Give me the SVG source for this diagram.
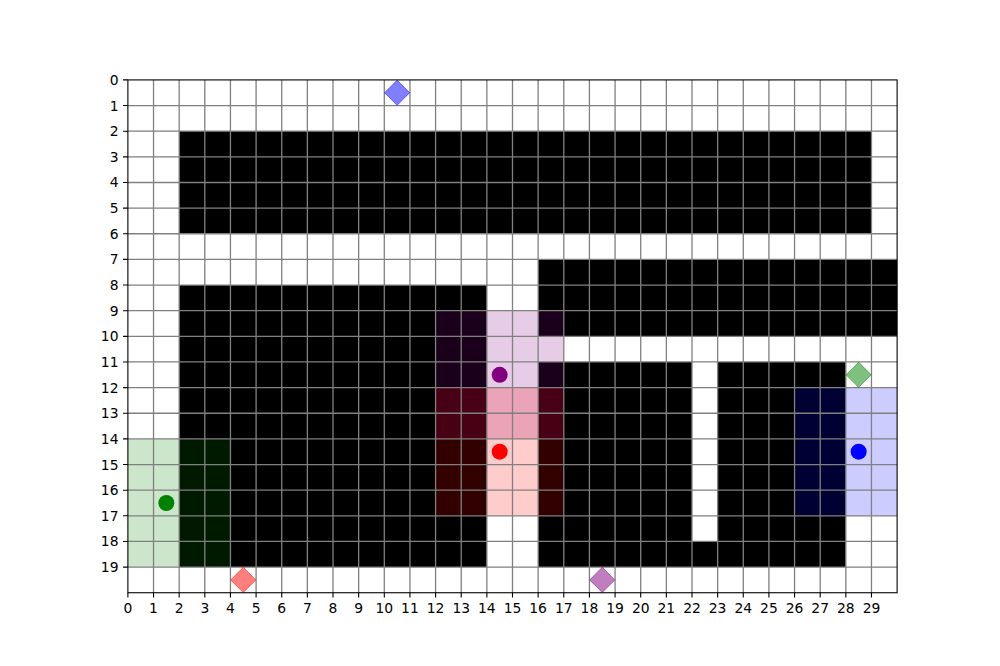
<svg xmlns="http://www.w3.org/2000/svg" width="1000" height="666" viewBox="0 0 1000 666">
<style>
.wall{fill:#000}
.gl{stroke:#808080;stroke-width:1.3;fill:none;vector-effect:non-scaling-stroke}
.tk{stroke:#000;stroke-width:1.1;fill:none}
text{font-family:"DejaVu Sans",sans-serif;font-size:13.89px;fill:#000}
.yl{text-anchor:end}
.xl{text-anchor:middle}
.mk{stroke-width:1;vector-effect:non-scaling-stroke;fill-opacity:0.5;stroke-opacity:0.5}
</style>
<rect x="0" y="0" width="1000" height="666" fill="#fff"/>
<g id="map" transform="translate(127.885,79.92) scale(25.641)">
  <rect x="0" y="0" width="30" height="20" fill="#fff"/>
  <g id="walls">
    <rect class="wall" x="2" y="2" width="27" height="4"/>
    <rect class="wall" x="16" y="7" width="14" height="3"/>
    <rect class="wall" x="2" y="8" width="12" height="11"/>
    <rect class="wall" x="16" y="11" width="6" height="8"/>
    <rect class="wall" x="22" y="18" width="1" height="1"/>
    <rect class="wall" x="23" y="11" width="5" height="8"/>
  </g>
  <g id="views">
    <rect x="12" y="9" width="5" height="5" fill="#800080" fill-opacity="0.2"/>
    <rect x="12" y="12" width="5" height="5" fill="#ff0000" fill-opacity="0.2"/>
    <rect x="26" y="12" width="4" height="5" fill="#0000ff" fill-opacity="0.2"/>
    <rect x="0" y="14" width="4" height="5" fill="#008000" fill-opacity="0.2"/>
  </g>
  <g id="grid">
    <path class="gl" d="M1 0V20M2 0V20M3 0V20M4 0V20M5 0V20M6 0V20M7 0V20M8 0V20M9 0V20M10 0V20M11 0V20M12 0V20M13 0V20M14 0V20M15 0V20M16 0V20M17 0V20M18 0V20M19 0V20M20 0V20M21 0V20M22 0V20M23 0V20M24 0V20M25 0V20M26 0V20M27 0V20M28 0V20M29 0V20"/>
    <path class="gl" d="M0 1H30M0 2H30M0 3H30M0 4H30M0 5H30M0 6H30M0 7H30M0 8H30M0 9H30M0 10H30M0 11H30M0 12H30M0 13H30M0 14H30M0 15H30M0 16H30M0 17H30M0 18H30M0 19H30"/>
  </g>
  <g id="goals">
    <polygon id="goal-blue" class="mk" fill="#0000ff" stroke="#0000ff" points="10.5,0.01 10.99,0.5 10.5,0.99 10.01,0.5"/>
    <polygon id="goal-green" class="mk" fill="#008000" stroke="#008000" points="28.5,11.01 28.99,11.5 28.5,11.99 28.01,11.5"/>
    <polygon id="goal-red" class="mk" fill="#ff0000" stroke="#ff0000" points="4.5,19.01 4.99,19.5 4.5,19.99 4.01,19.5"/>
    <polygon id="goal-purple" class="mk" fill="#800080" stroke="#800080" points="18.5,19.01 18.99,19.5 18.5,19.99 18.01,19.5"/>
  </g>
  <g id="agents">
    <circle id="agent-purple" cx="14.5" cy="11.5" r="0.312" fill="#800080"/>
    <circle id="agent-red" cx="14.5" cy="14.5" r="0.312" fill="#ff0000"/>
    <circle id="agent-blue" cx="28.5" cy="14.5" r="0.312" fill="#0000ff"/>
    <circle id="agent-green" cx="1.5" cy="16.5" r="0.312" fill="#008000"/>
  </g>
</g>
<g id="axes">
  <rect x="127.885" y="79.92" width="769.23" height="512.82" fill="none" stroke="#000" stroke-width="1.1"/>
  <path class="tk" d="M127.885 592.74v4.86M153.53 592.74v4.86M179.17 592.74v4.86M204.81 592.74v4.86M230.45 592.74v4.86M256.09 592.74v4.86M281.73 592.74v4.86M307.37 592.74v4.86M333.01 592.74v4.86M358.65 592.74v4.86M384.3 592.74v4.86M409.94 592.74v4.86M435.58 592.74v4.86M461.22 592.74v4.86M486.86 592.74v4.86M512.5 592.74v4.86M538.14 592.74v4.86M563.78 592.74v4.86M589.42 592.74v4.86M615.06 592.74v4.86M640.71 592.74v4.86M666.35 592.74v4.86M691.99 592.74v4.86M717.63 592.74v4.86M743.27 592.74v4.86M768.91 592.74v4.86M794.55 592.74v4.86M820.19 592.74v4.86M845.83 592.74v4.86M871.47 592.74v4.86"/>
  <path class="tk" d="M127.885 79.92h-4.86M127.885 105.56h-4.86M127.885 131.2h-4.86M127.885 156.84h-4.86M127.885 182.48h-4.86M127.885 208.13h-4.86M127.885 233.77h-4.86M127.885 259.41h-4.86M127.885 285.05h-4.86M127.885 310.69h-4.86M127.885 336.33h-4.86M127.885 361.97h-4.86M127.885 387.61h-4.86M127.885 413.25h-4.86M127.885 438.89h-4.86M127.885 464.54h-4.86M127.885 490.18h-4.86M127.885 515.82h-4.86M127.885 541.46h-4.86M127.885 567.1h-4.86"/>
  <g id="xlabels">
    <text class="xl" x="127.885" y="613">0</text>
    <text class="xl" x="153.53" y="613">1</text>
    <text class="xl" x="179.17" y="613">2</text>
    <text class="xl" x="204.81" y="613">3</text>
    <text class="xl" x="230.45" y="613">4</text>
    <text class="xl" x="256.09" y="613">5</text>
    <text class="xl" x="281.73" y="613">6</text>
    <text class="xl" x="307.37" y="613">7</text>
    <text class="xl" x="333.01" y="613">8</text>
    <text class="xl" x="358.65" y="613">9</text>
    <text class="xl" x="384.3" y="613">10</text>
    <text class="xl" x="409.94" y="613">11</text>
    <text class="xl" x="435.58" y="613">12</text>
    <text class="xl" x="461.22" y="613">13</text>
    <text class="xl" x="486.86" y="613">14</text>
    <text class="xl" x="512.5" y="613">15</text>
    <text class="xl" x="538.14" y="613">16</text>
    <text class="xl" x="563.78" y="613">17</text>
    <text class="xl" x="589.42" y="613">18</text>
    <text class="xl" x="615.06" y="613">19</text>
    <text class="xl" x="640.71" y="613">20</text>
    <text class="xl" x="666.35" y="613">21</text>
    <text class="xl" x="691.99" y="613">22</text>
    <text class="xl" x="717.63" y="613">23</text>
    <text class="xl" x="743.27" y="613">24</text>
    <text class="xl" x="768.91" y="613">25</text>
    <text class="xl" x="794.55" y="613">26</text>
    <text class="xl" x="820.19" y="613">27</text>
    <text class="xl" x="845.83" y="613">28</text>
    <text class="xl" x="871.47" y="613">29</text>
  </g>
  <g id="ylabels">
    <text class="yl" x="118.5" y="84.92">0</text>
    <text class="yl" x="118.5" y="110.56">1</text>
    <text class="yl" x="118.5" y="136.2">2</text>
    <text class="yl" x="118.5" y="161.84">3</text>
    <text class="yl" x="118.5" y="187.48">4</text>
    <text class="yl" x="118.5" y="213.13">5</text>
    <text class="yl" x="118.5" y="238.77">6</text>
    <text class="yl" x="118.5" y="264.41">7</text>
    <text class="yl" x="118.5" y="290.05">8</text>
    <text class="yl" x="118.5" y="315.69">9</text>
    <text class="yl" x="118.5" y="341.33">10</text>
    <text class="yl" x="118.5" y="366.97">11</text>
    <text class="yl" x="118.5" y="392.61">12</text>
    <text class="yl" x="118.5" y="418.25">13</text>
    <text class="yl" x="118.5" y="443.89">14</text>
    <text class="yl" x="118.5" y="469.54">15</text>
    <text class="yl" x="118.5" y="495.18">16</text>
    <text class="yl" x="118.5" y="520.82">17</text>
    <text class="yl" x="118.5" y="546.46">18</text>
    <text class="yl" x="118.5" y="572.1">19</text>
  </g>
</g>
</svg>
